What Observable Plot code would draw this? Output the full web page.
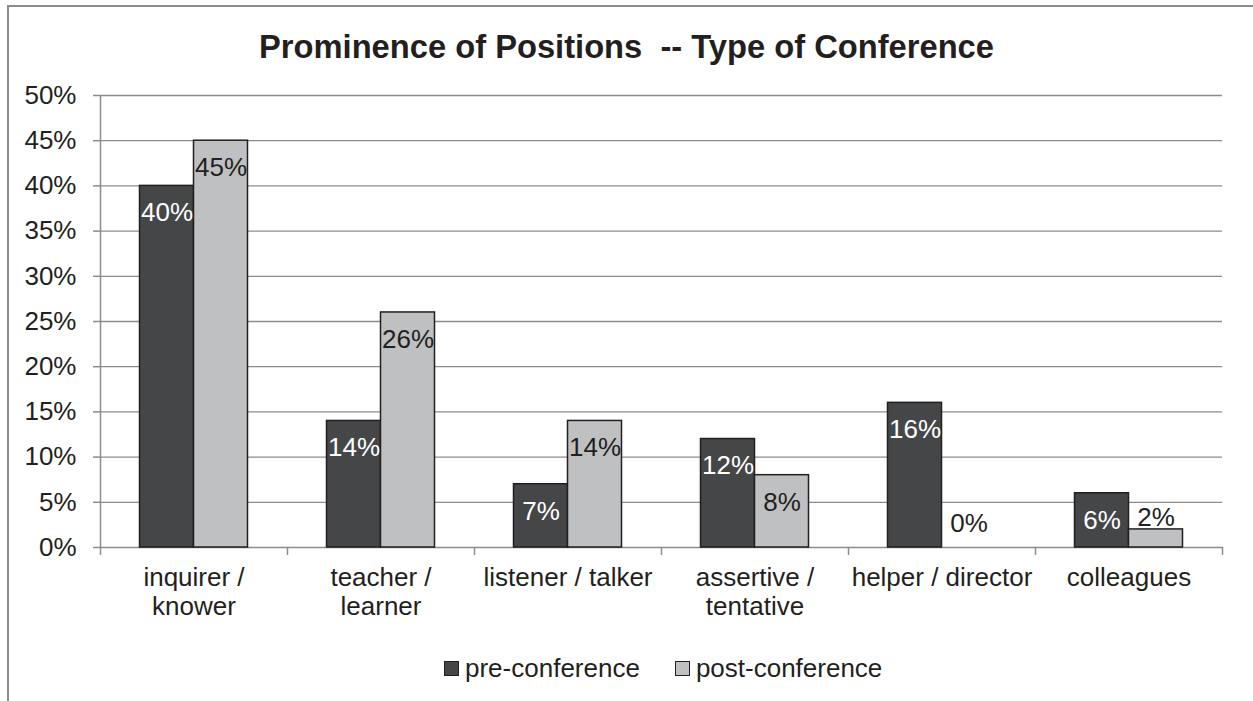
<!DOCTYPE html>
<html>
<head>
<meta charset="utf-8">
<script src="https://cdn.jsdelivr.net/npm/d3@7"></script>
<script src="https://cdn.jsdelivr.net/npm/@observablehq/plot@0.6"></script>
<style>
  html, body { margin: 0; padding: 0; background: #fff; }
  body { width: 1253px; height: 701px; position: relative; overflow: hidden; font-family: "Liberation Sans", Arial, sans-serif; color: #231f20; }
  #frame { position: absolute; left: 7px; top: 5px; width: 1246px; height: 696px; border-top: 2px solid #8c8c8c; border-left: 2px solid #8c8c8c; box-sizing: border-box; }
  #title { height: 75px; box-sizing: border-box; padding-top: 30px; text-align: center; font-weight: bold; font-size: 32.7px; line-height: 34px; white-space: pre; position: relative; }
  #chart { position: relative; height: 560px; }
  #legend { position: relative; height: 66px; display: flex; align-items: center; padding-left: 444px; box-sizing: border-box; font-size: 26px; }
  .item { display: flex; align-items: center; margin-right: 35px; }
  .sw { width: 13px; height: 13px; border: 1px solid #231f20; margin-right: 6px; }
</style>
</head>
<body>
<div id="frame"></div>
<div id="title">Prominence of Positions  -- Type of Conference</div>
<div id="chart"></div>
<div id="legend"></div>
<script>
const title = "Prominence of Positions  -- Type of Conference";
const categories = ["inquirer / knower", "teacher / learner", "listener / talker", "assertive / tentative", "helper / director", "colleagues"];
const tickLabels = ["inquirer /\nknower", "teacher /\nlearner", "listener / talker", "assertive /\ntentative", "helper / director", "colleagues"];
const seriesNames = ["pre-conference", "post-conference"];
const preValues = [40, 14, 7, 12, 16, 6];
const postValues = [45, 26, 14, 8, 0, 2];
const yTicks = [0, 5, 10, 15, 20, 25, 30, 35, 40, 45, 50];
const colors = ["#454648", "#bfc0c2"];
const labelColors = ["#ffffff", "#231f20"];

const rows = [];
categories.forEach((c, i) => {
  rows.push({category: c, series: seriesNames[0], value: preValues[i], s: 0});
  rows.push({category: c, series: seriesNames[1], value: postValues[i], s: 1});
});

const W = 1253, mL = 100, mR = 31;
const band = (W - mL - mR) / categories.length;
const barW = 54;
const half = band / 2;
const grid = "#8c8c8c";
const fontSize = 26;

const tickLabelMap = new Map(categories.map((c, i) => [c, tickLabels[i]]));

function barsFor(s) {
  const data = rows.filter(d => d.s === s);
  return Plot.barY(data, {
    x: "category", y: "value",
    fill: colors[s], stroke: "#231f20", strokeWidth: 1.5,
    insetLeft: s === 0 ? half - barW : half,
    insetRight: s === 0 ? half : half - barW
  });
}
function labelsFor(s) {
  const data = rows.filter(d => d.s === s);
  const dx = s === 0 ? -barW / 2 : barW / 2;
  const common = {x: "category", y: "value", text: d => d.value + "%", dx, fontSize, fill: labelColors[s]};
  return [
    Plot.text(data.filter(d => d.value >= 5), {...common, dy: 27}),
    Plot.text(data.filter(d => d.value > 0 && d.value < 5), {...common, dy: -12, fill: "#231f20"}),
    Plot.text(data.filter(d => d.value === 0), {...common, dy: -24, fill: "#231f20"})
  ];
}

const plot = Plot.plot({
  width: W, height: 560,
  marginTop: 20, marginBottom: 88, marginLeft: mL, marginRight: mR,
  style: {fontFamily: '"Liberation Sans", Arial, sans-serif', color: "#231f20", background: "transparent", overflow: "visible"},
  x: {domain: categories, padding: 0},
  y: {domain: [0, 50]},
  marks: [
    Plot.ruleY(yTicks.filter(t => t > 0), {stroke: grid, strokeWidth: 1.3}),
    Plot.ruleY([0], {stroke: grid, strokeWidth: 1.5}),
    Plot.ruleX([categories[0]], {dx: -half, y1: 0, y2: 50, stroke: grid, strokeWidth: 1.5}),
    Plot.axisY({ticks: yTicks, tickFormat: d => d + "%", tickSize: 7, tickPadding: 17, fontSize, stroke: grid, strokeWidth: 1.5, fill: "#231f20", label: null}),
    Plot.axisX({tickSize: 8, dx: -half, tickFormat: () => "", stroke: grid, strokeWidth: 1.5, label: null}),
    Plot.axisX({ticks: [categories[categories.length - 1]], tickSize: 8, dx: half, tickFormat: () => "", stroke: grid, strokeWidth: 1.5, label: null}),
    Plot.axisX({tickSize: 0, tickPadding: 19, tickFormat: d => tickLabelMap.get(d), fontSize, lineHeight: 1.08, fill: "#231f20", label: null}),
    barsFor(0), barsFor(1),
    ...labelsFor(0), ...labelsFor(1)
  ]
});
document.getElementById("chart").appendChild(plot);

const legend = document.getElementById("legend");
seriesNames.forEach((name, i) => {
  const item = document.createElement("div");
  item.className = "item";
  const sw = document.createElement("div");
  sw.className = "sw";
  sw.style.background = colors[i];
  const t = document.createElement("span");
  t.textContent = name;
  item.appendChild(sw); item.appendChild(t);
  legend.appendChild(item);
});
</script>
</body>
</html>
